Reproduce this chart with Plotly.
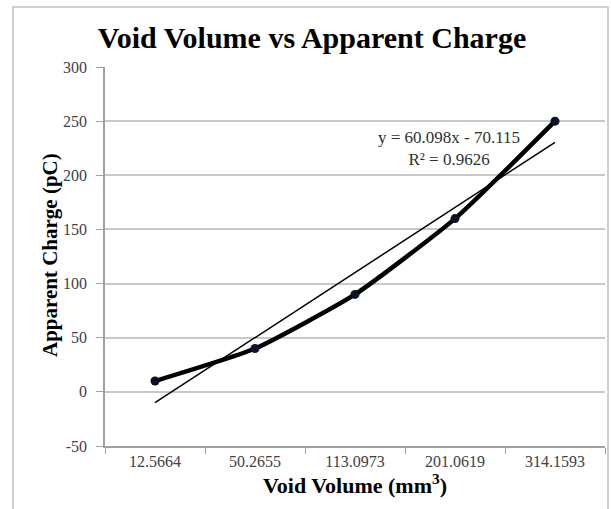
import plotly.graph_objects as go

categories = ["12.5664", "50.2655", "113.0973", "201.0619", "314.1593"]
charge = [10, 40, 90, 160, 250]
trend_slope = 60.098
trend_intercept = -70.115
r_squared = 0.9626
y_ticks = [-50, 0, 50, 100, 150, 200, 250, 300]
y_tick_labels = ["-50", "0", "50", "100", "150", "200", "250", "300"]

W, H = 611, 509
ml, mr, mt, mb = 105, 6, 67, 63
pw = W - ml - mr
ph = H - mt - mb

trend_x = [categories[0], categories[-1]]
trend_y = [trend_slope * 1 + trend_intercept, trend_slope * len(categories) + trend_intercept]

fig = go.Figure()
fig.add_trace(go.Scatter(
    x=trend_x, y=trend_y, mode="lines",
    line=dict(color="black", width=1.5), showlegend=False, hoverinfo="skip"))
fig.add_trace(go.Scatter(
    x=categories, y=charge, mode="lines+markers",
    line=dict(color="black", width=4.5, shape="spline", smoothing=0.5),
    marker=dict(color="#0d1226", size=9),
    showlegend=False))

serif = "Liberation Serif, Times New Roman, serif"
fig.update_layout(
    width=W, height=H,
    margin=dict(l=ml, r=mr, t=mt, b=mb, autoexpand=False),
    paper_bgcolor="white", plot_bgcolor="white",
    title=dict(text="<b>Void Volume vs Apparent Charge</b>",
               font=dict(family=serif, size=30, color="black"),
               x=312 / W, xref="container", xanchor="center",
               y=1 - 37 / H, yref="container", yanchor="middle", automargin=False),
    xaxis=dict(type="category", categoryorder="array", categoryarray=categories,
               range=[-0.5, len(categories) - 0.5],
               tickson="boundaries", ticks="outside", ticklen=6, tickcolor="#a0a0a0",
               showline=True, linecolor="#a0a0a0", linewidth=1.5,
               showgrid=False, zeroline=False, automargin=False,
               tickfont=dict(family=serif, size=16, color="#404040"),
               title=dict(text="<b>Void Volume (mm<sup>3</sup>)</b>",
                          font=dict(family=serif, size=22, color="black"), standoff=7)),
    yaxis=dict(range=[-50, 300], tickvals=y_ticks, ticktext=y_tick_labels,
               ticks="outside", ticklen=7, ticklabelstandoff=6,
               tickcolor="#a0a0a0", showline=True, linecolor="#a0a0a0", linewidth=1.5,
               showgrid=True, gridcolor="#c8c8c8", gridwidth=1.5, zeroline=False,
               automargin=False,
               tickfont=dict(family=serif, size=16, color="#404040")),
    annotations=[
        dict(text=f"y = {trend_slope}x - {abs(trend_intercept)}<br>R² = {r_squared}",
             xref="paper", yref="paper",
             x=(449 - ml) / pw, y=1 - (149 - mt) / ph, xanchor="center", yanchor="middle",
             showarrow=False, align="center",
             font=dict(family=serif, size=17, color="#303030")),
        dict(text="<b>Apparent Charge (pC)</b>", textangle=-90,
             xref="paper", yref="paper",
             x=(50 - ml) / pw, y=1 - (255 - mt) / ph, xanchor="center", yanchor="middle",
             showarrow=False, font=dict(family=serif, size=21, color="black")),
    ],
    shapes=[dict(type="rect", xref="paper", yref="paper",
                 x0=(13 - ml) / pw, x1=(608 - ml) / pw,
                 y0=-1, y1=1 + (mt - 7) / ph,
                 line=dict(color="#c0c0c0", width=1.5), layer="below")],
)

fig.write_html("out.html", config={"displayModeBar": False},
               post_script="document.body.style.margin='0';document.body.style.overflow='hidden';")
